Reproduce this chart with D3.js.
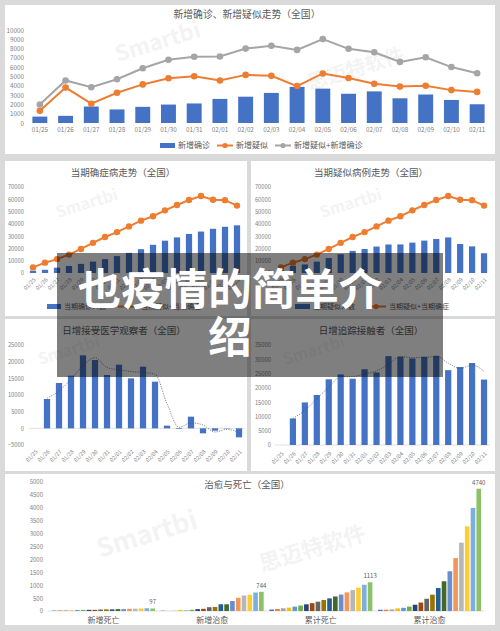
<!DOCTYPE html>
<html><head><meta charset="utf-8">
<script src="https://cdn.jsdelivr.net/npm/d3@7"></script>
<style>
body{margin:0;background:#dadada}
svg{display:block}
text{font-family:"Noto Sans CJK SC","Noto Sans",sans-serif}
</style>
</head><body>
<svg id="c" width="500" height="631"></svg>
<script>
const dates = ["01/25","01/26","01/27","01/28","01/29","01/30","01/31","02/01","02/02","02/03","02/04","02/05","02/06","02/07","02/08","02/09","02/10","02/11"];
const newConfirmed = [688,769,1771,1459,1737,1982,2102,2590,2829,3235,3887,3694,3143,3399,2656,3062,2478,2015];
const newSuspected = [1309,3806,2077,3248,4148,4812,5019,4562,5173,5072,3971,5328,4833,4214,3916,4008,3536,3342];
const newSum = [1997,4575,3848,4707,5885,6794,7121,7152,8002,8307,7858,9022,7976,7613,6572,7070,6014,5357];
const curConfirmed = [1870,2613,4349,5739,7417,9308,11289,13748,16369,19381,22942,26302,28985,31774,33738,35982,37626,38800];
const curSuspected = [2684,5794,6973,9239,12167,15238,17988,19544,21558,23214,23260,24702,26359,27657,28942,23589,21675,16067];
const curSum = [4554,8407,11322,14978,19584,24546,29277,33292,37927,42595,46202,51004,55344,59431,62680,59571,59301,54867];
const observed = [null,8800,13600,15800,21900,20500,16000,19100,15000,18500,14000,800,-200,3500,-1500,-700,100,-2700];
const observedTrend = [null,9000,11200,14700,18850,21200,18250,17550,17050,16750,16250,7400,300,1650,1000,-1100,-300,-1300];
const traced = [null,9300,14900,17500,23000,24700,23200,26500,25400,31100,30900,30300,30900,31200,26200,27300,28700,22900];
const tracedTrend = [null,9300,12100,16200,20250,23850,23950,24850,25950,28250,31000,30600,30600,31050,28700,26750,28000,25800];
const outcomeGroups = ["新增死亡","新增治愈","累计死亡","累计治愈"];
const newDeaths = [15,24,26,26,38,43,46,45,57,64,65,73,73,86,89,97,108,97];
const newCured = [11,2,9,43,21,47,72,85,147,157,262,261,387,510,600,632,716,744];
const cumDeaths = [56,80,106,132,170,213,259,304,361,425,490,563,636,722,811,908,1016,1113];
const cumCured = [49,51,60,103,124,171,243,328,475,632,892,1153,1540,2050,2649,3281,3996,4740];
const outcomeValues = [newDeaths,newCured,cumDeaths,cumCured];
const outcomeLabels = ["97","744","1113","4740"];
const barPalette = ["#4472C4","#ED7D31","#A5A5A5","#FFC000","#5B9BD5","#70AD47","#264478","#9E480E","#636363","#997300","#255E91","#43682B","#698ED0","#F1975A","#B7B7B7","#FFCD33","#7CAFDD","#8CC168"];
const ticks1 = d3.range(0,10001,1000);
const ticks2 = d3.range(0,70001,10000);
const ticks4 = d3.range(-5000,25001,5000);
const ticks5 = d3.range(0,35001,5000);
const ticks6 = d3.range(0,5001,500);
const mainTitle = ["也疫情的简单介","绍"];

const svg = d3.select("#c");
const BLUE="#4472C4", ORANGE="#ED7D31", GRAY="#A5A5A5", TICK="#7f7f7f", TITLE="#595959";

// panels
[[5,5,490,149],[5,161,242,155],[251,161,244,155],[5,319,242,152],[251,319,244,152],[5,474,490,151]]
.forEach(p=>svg.append("rect").attr("x",p[0]).attr("y",p[1]).attr("width",p[2]).attr("height",p[3]).attr("fill","#fff"));

// watermarks
function wm(x,y,t,s,r){svg.append("text").attr("transform",`translate(${x},${y}) rotate(${r})`).attr("font-size",s).attr("font-weight",700).attr("fill","#000").attr("opacity",0.045).text(t);}
wm(118,62,"Smartbi",22,-17); wm(310,90,"思迈特软件",20,-17);
wm(58,218,"Smartbi",16,-17); wm(322,218,"Smartbi",16,-17);
wm(40,365,"Smartbi",16,-17); wm(285,365,"Smartbi",16,-17);
wm(100,558,"Smartbi",26,-17); wm(262,572,"思迈特软件",22,-17);

function title(x,y,t,s){svg.append("text").attr("x",x).attr("y",y).attr("text-anchor","middle").attr("font-size",s||9.5).attr("fill",TITLE).text(t);}

function yAxis(y, ticks, xr, fs){
  const g = svg.append("g").attr("transform",`translate(${xr},0)`)
    .call(d3.axisLeft(y).tickValues(ticks).tickSize(0).tickPadding(0).tickFormat(d3.format("d")));
  g.select(".domain").remove();
  g.selectAll("text").attr("fill",TICK).attr("font-size",fs||6).attr("font-family","'Liberation Sans',sans-serif");
}
function xAxisFlat(x, yPos, fs){
  const g = svg.append("g").attr("transform",`translate(0,${yPos})`).call(d3.axisBottom(x).tickSize(0).tickPadding(0));
  g.select(".domain").remove();
  g.selectAll("text").attr("fill",TICK).attr("font-size",fs).attr("font-family","'Liberation Sans',sans-serif");
}
function xAxisRot(x, yPos){
  const g = svg.append("g").attr("transform",`translate(0,${yPos})`).call(d3.axisBottom(x).tickSize(0).tickPadding(0));
  g.select(".domain").remove();
  g.selectAll("text").attr("fill",TICK).attr("font-size",5.5).attr("font-family","'Liberation Sans',sans-serif")
    .attr("text-anchor","end").attr("dy","0.3em").attr("transform","translate(2,4) rotate(-45)");
}
function bars(x,y,vals,color){
  svg.append("g").selectAll("rect").data(vals.map((v,i)=>[dates[i],v]).filter(d=>d[1]!==null)).join("rect")
    .attr("x",d=>x(d[0])).attr("width",x.bandwidth())
    .attr("y",d=>y(Math.max(0,d[1]))).attr("height",d=>Math.abs(y(d[1])-y(0)))
    .attr("fill",color);
}
function lineMarkers(x,y,vals,color,w,r){
  const pts = vals.map((v,i)=>[x(dates[i])+x.bandwidth()/2,y(v)]);
  svg.append("path").attr("d",d3.line()(pts)).attr("fill","none").attr("stroke",color).attr("stroke-width",w);
  svg.append("g").selectAll("circle").data(pts).join("circle").attr("cx",d=>d[0]).attr("cy",d=>d[1]).attr("r",r).attr("fill",color);
}
function trend(x,y,vals){
  const pts = vals.map((v,i)=>[dates[i],v]).filter(d=>d[1]!==null).map(d=>[x(d[0])+x.bandwidth()/2,y(d[1])]);
  svg.append("path").attr("d",d3.line().curve(d3.curveMonotoneX)(pts)).attr("fill","none").attr("stroke","#44546A").attr("stroke-width",0.8).attr("stroke-dasharray","1.2,1.2").attr("opacity",0.85);
}
function legRect(x,y,w,t,fs){svg.append("rect").attr("x",x).attr("y",y-5).attr("width",w).attr("height",5).attr("fill",BLUE);
  svg.append("text").attr("x",x+w+3).attr("y",y).attr("font-size",fs).attr("fill",TITLE).text(t);}
function legLine(x,y,w,c,t,fs){svg.append("line").attr("x1",x).attr("x2",x+w).attr("y1",y-2.5).attr("y2",y-2.5).attr("stroke",c).attr("stroke-width",2);
  svg.append("circle").attr("cx",x+w/2).attr("cy",y-2.5).attr("r",2.6).attr("fill",c);
  svg.append("text").attr("x",x+w+3).attr("y",y).attr("font-size",fs).attr("fill",TITLE).text(t);}

// ---- Chart 1
{
  const x = d3.scaleBand().domain(dates).range([27,490]).paddingInner(0.42).paddingOuter(0.21);
  const y = d3.scaleLinear().domain([0,10000]).range([123,30]);
  title(247,18,"新增确诊、新增疑似走势（全国）",9.8);
  yAxis(y,ticks1,24,6.3);
  bars(x,y,newConfirmed,BLUE);
  lineMarkers(x,y,newSuspected,ORANGE,2,3.3);
  lineMarkers(x,y,newSum,GRAY,2,3.3);
  xAxisFlat(x,128,6.3);
  legRect(160,148,15,"新增确诊",8);
  legLine(217,148,16,ORANGE,"新增疑似",8);
  legLine(275,148,16,GRAY,"新增疑似+新增确诊",8);
}
// ---- Chart 2
{
  const x = d3.scaleBand().domain(dates).range([27,243]).paddingInner(0.48).paddingOuter(0.24);
  const y = d3.scaleLinear().domain([0,70000]).range([273,187]);
  title(123,176,"当期确症病走势（全国）",9.5);
  yAxis(y,ticks2,24,5.8);
  bars(x,y,curConfirmed,BLUE);
  lineMarkers(x,y,curSum,ORANGE,2,3.2);
  xAxisRot(x,275);
  legRect(47,309,14,"当期确诊人数",7);
  legLine(118,309,20,ORANGE,"当期疑似+当期确症",7);
}
// ---- Chart 3
{
  const x = d3.scaleBand().domain(dates).range([275,490]).paddingInner(0.48).paddingOuter(0.24);
  const y = d3.scaleLinear().domain([0,70000]).range([273,187]);
  title(371,176,"当期疑似病例走势（全国）",9.5);
  yAxis(y,ticks2,271,5.8);
  bars(x,y,curSuspected,BLUE);
  lineMarkers(x,y,curSum,ORANGE,2,3.2);
  xAxisRot(x,275);
  legRect(295,309,15,"当期疑似人数",7);
  legLine(366,309,20,ORANGE,"当期疑似+当期确症",7);
}
// ---- Chart 4
{
  const x = d3.scaleBand().domain(dates).range([29,245]).paddingInner(0.48).paddingOuter(0.24);
  const y = d3.scaleLinear().domain([-5000,25000]).range([445,345]);
  title(124,334,"日增接受医学观察者（全国）",9.5);
  yAxis(y,ticks4,24,5.8);
  svg.append("line").attr("x1",29).attr("x2",245).attr("y1",y(0)).attr("y2",y(0)).attr("stroke","#d9d9d9").attr("stroke-width",0.8);
  bars(x,y,observed,BLUE);
  trend(x,y,observedTrend);
  xAxisRot(x,447);
}
// ---- Chart 5
{
  const x = d3.scaleBand().domain(dates).range([275,490]).paddingInner(0.48).paddingOuter(0.24);
  const y = d3.scaleLinear().domain([0,35000]).range([445,345]);
  title(371,334,"日增追踪接触者（全国）",9.5);
  yAxis(y,ticks5,271,5.8);
  svg.append("line").attr("x1",275).attr("x2",490).attr("y1",y(0)).attr("y2",y(0)).attr("stroke","#d9d9d9").attr("stroke-width",0.8);
  bars(x,y,traced,BLUE);
  trend(x,y,tracedTrend);
  xAxisRot(x,449);
}
// ---- Chart 6
{
  const x0 = d3.scaleBand().domain(outcomeGroups).range([48,485]).padding(0.02);
  const x1 = d3.scaleBand().domain(dates).range([0,x0.bandwidth()]).paddingInner(0.2).paddingOuter(0.3);
  const y = d3.scaleLinear().domain([0,5000]).range([611,482]);
  title(247,488,"治愈与死亡（全国）",9.5);
  yAxis(y,ticks6,43,6);
  svg.append("line").attr("x1",48).attr("x2",485).attr("y1",611).attr("y2",611).attr("stroke","#d9d9d9").attr("stroke-width",0.8);
  outcomeGroups.forEach((g,gi)=>{
    const gg = svg.append("g").attr("transform",`translate(${x0(g)},0)`);
    gg.selectAll("rect").data(outcomeValues[gi]).join("rect")
      .attr("x",(d,i)=>x1(dates[i])).attr("width",x1.bandwidth())
      .attr("y",d=>y(d)).attr("height",d=>y(0)-y(d)).attr("fill",(d,i)=>barPalette[i]);
    const last = outcomeValues[gi][17];
    gg.append("text").attr("x",x1(dates[17])+x1.bandwidth()/2).attr("y",y(last)-4).attr("text-anchor","middle")
      .attr("font-size",6).attr("fill",TITLE).attr("font-family","'Liberation Sans',sans-serif").text(outcomeLabels[gi]);
    svg.append("text").attr("x",x0(g)+x0.bandwidth()/2).attr("y",623).attr("text-anchor","middle").attr("font-size",8).attr("fill",TITLE).text(g);
  });
}
// ---- Overlay title
svg.append("rect").attr("x",57).attr("y",253).attr("width",386).attr("height",124).attr("fill","#000").attr("opacity",0.5);
mainTitle.forEach((t,i)=>svg.append("text").attr("x",230).attr("y",305+i*48).attr("text-anchor","middle")
  .attr("font-size",43.5).attr("font-weight",700).attr("fill","#fff").text(t));
</script>
</body></html>
